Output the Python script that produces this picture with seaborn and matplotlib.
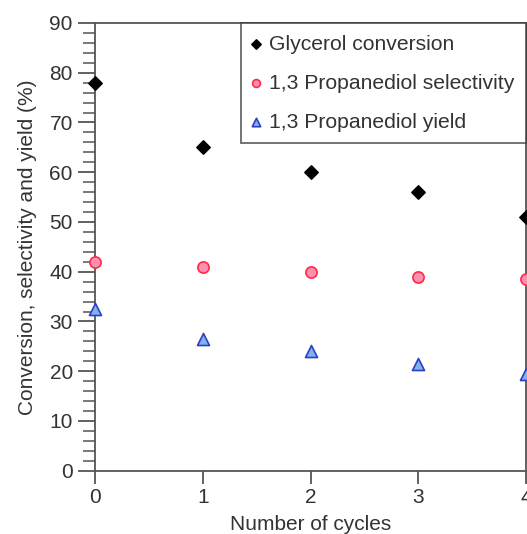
import matplotlib
matplotlib.use("Agg")
import matplotlib.pyplot as plt
import seaborn as sns
import pandas as pd
from matplotlib.ticker import MultipleLocator

cycles = [0, 1, 2, 3, 4]
glycerol_conversion = [78, 65, 60, 56, 51]
pdo_selectivity = [42, 41, 40, 39, 38.5]
pdo_yield = [32.5, 26.5, 24, 21.5, 19.5]
series_labels = ["Glycerol conversion", "1,3 Propanediol selectivity", "1,3 Propanediol yield"]

sns.set_style("ticks")
plt.rcParams["font.family"] = ["Liberation Sans", "DejaVu Sans"]
plt.rcParams["text.color"] = "#333333"
plt.rcParams["axes.labelcolor"] = "#333333"
plt.rcParams["xtick.color"] = "#555555"
plt.rcParams["ytick.color"] = "#555555"
plt.rcParams["xtick.labelcolor"] = "#333333"
plt.rcParams["ytick.labelcolor"] = "#333333"

fig = plt.figure(figsize=(5.27, 5.34), dpi=100)
ax = fig.add_axes([95 / 527, (534 - 470.7) / 534, (526 - 95) / 527, (470.7 - 23) / 534])

df = pd.DataFrame({"cycles": cycles, "gc": glycerol_conversion,
                   "ps": pdo_selectivity, "py": pdo_yield})

styles = [
    ("gc", "D", "black", "black", 45),
    ("ps", "o", "#ff8fb0", "#ff2a4a", 65),
    ("py", "^", "#7fb2f0", "#2f3fbf", 75),
]
for (col, mk, fc, ec, s), lab in zip(styles, series_labels):
    sns.scatterplot(data=df, x="cycles", y=col, marker=mk, color=fc, edgecolor=ec,
                    linewidth=1.2, s=s, ax=ax, label=lab, clip_on=False, zorder=5)

ax.set_xlim(0, 4)
ax.set_ylim(0, 90)
ax.set_xticks(cycles)
ax.yaxis.set_major_locator(MultipleLocator(10))
ax.yaxis.set_minor_locator(MultipleLocator(2))
ax.tick_params(axis="both", which="major", labelsize=15, direction="out", width=1.3)
ax.tick_params(axis="y", which="major", length=12, pad=4)
ax.tick_params(axis="x", which="major", length=9)
ax.tick_params(axis="y", which="minor", length=9, width=1.1, direction="out")
for sp in ax.spines.values():
    sp.set_color("#555555")
    sp.set_linewidth(1.3)

ax.set_xlabel("Number of cycles", fontsize=15, labelpad=6)
ax.set_ylabel("Conversion, selectivity and yield (%)", fontsize=15, labelpad=9)

leg = ax.legend(loc="upper right", bbox_to_anchor=(1.0, 1.0), borderaxespad=0,
                fontsize=15.2, frameon=True, fancybox=False, handletextpad=0.4,
                borderpad=0.55, labelspacing=0.95, markerscale=0.7, handlelength=0.4)
leg.get_frame().set_edgecolor("#333333")
leg.get_frame().set_linewidth(1.2)

fig.savefig("out.png", dpi=100)
